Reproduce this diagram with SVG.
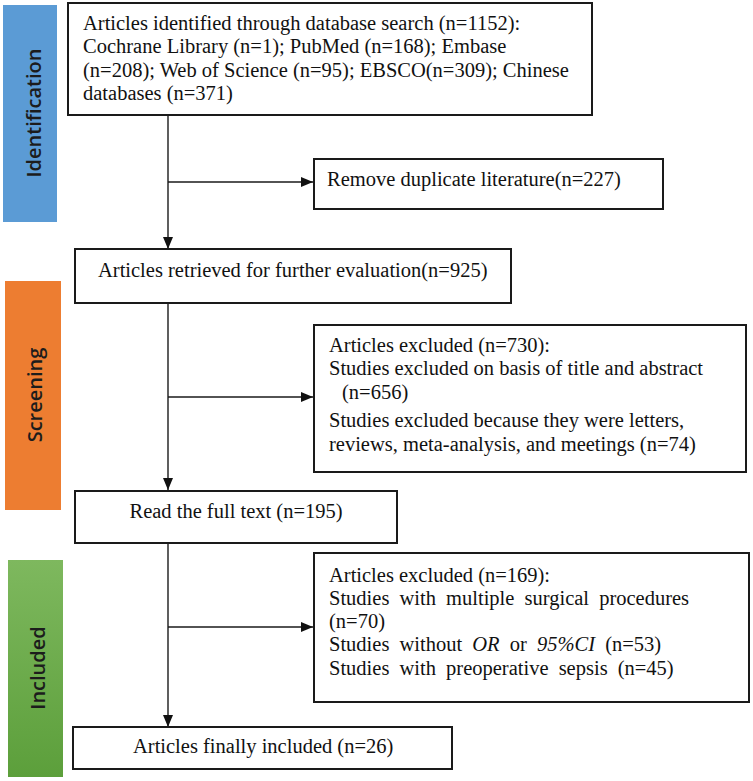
<svg xmlns="http://www.w3.org/2000/svg" width="753" height="781" viewBox="0 0 753 781">
<style>
.box{fill:#fff;stroke:#1a1a1a;stroke-width:2}
.t{font-family:"Liberation Serif","Times New Roman",serif;font-size:20.5px;fill:#111}
.js{word-spacing:5px}
.side{font-family:"Open Sans","Noto Sans",sans-serif;font-size:20px;font-weight:600;fill:#1c1c1c}
.ln{stroke:#1a1a1a;stroke-width:1.4;fill:none}
</style>
<defs>
<marker id="ah" markerWidth="12" markerHeight="10" refX="12" refY="5" orient="auto" markerUnits="userSpaceOnUse">
<path d="M0,0 L12,5 L0,10 Z" fill="#111"/>
</marker>
<linearGradient id="gg" x1="0" y1="0" x2="0" y2="1">
<stop offset="0" stop-color="#7eb85e"/>
<stop offset="1" stop-color="#5c9f3b"/>
</linearGradient>
</defs>

<g id="phase-identification">
<rect x="3" y="5" width="54" height="217" fill="#5b9bd5"/>
<text class="side" transform="translate(33,113) rotate(-90)" text-anchor="middle" dominant-baseline="central">Identification</text>
</g>
<g id="phase-screening">
<rect x="5" y="281" width="56" height="229" fill="#ed7d31"/>
<text class="side" transform="translate(34,395) rotate(-90)" text-anchor="middle" dominant-baseline="central">Screening</text>
</g>
<g id="phase-included">
<rect x="8" y="560" width="55" height="217" fill="url(#gg)"/>
<text class="side" transform="translate(37,668) rotate(-90)" text-anchor="middle" dominant-baseline="central">Included</text>
</g>

<g id="connectors">
<line class="ln" x1="168" y1="115" x2="168" y2="249" marker-end="url(#ah)"/>
<line class="ln" x1="168" y1="182" x2="313" y2="182" marker-end="url(#ah)"/>
<line class="ln" x1="168" y1="303" x2="168" y2="490" marker-end="url(#ah)"/>
<line class="ln" x1="168" y1="397" x2="313" y2="397" marker-end="url(#ah)"/>
<line class="ln" x1="168" y1="543" x2="168" y2="727" marker-end="url(#ah)"/>
<line class="ln" x1="168" y1="627" x2="313" y2="627" marker-end="url(#ah)"/>
</g>

<g id="node-identified">
<rect class="box" x="68" y="3" width="524" height="112"/>
<text class="t" x="83" y="30">Articles identified through database search (n=1152):</text>
<text class="t" x="83" y="53">Cochrane Library (n=1); PubMed (n=168); Embase</text>
<text class="t" x="83" y="77">(n=208); Web of Science (n=95); EBSCO(n=309); Chinese</text>
<text class="t" x="83" y="100">databases (n=371)</text>
</g>

<g id="node-duplicates">
<rect class="box" x="314" y="159" width="349" height="50"/>
<text class="t" x="327" y="186">Remove duplicate literature(n=227)</text>
</g>

<g id="node-retrieved">
<rect class="box" x="75" y="249" width="436" height="54"/>
<text class="t" x="98" y="277">Articles retrieved for further evaluation(n=925)</text>
</g>

<g id="node-excluded-730">
<rect class="box" x="314" y="325" width="432" height="147"/>
<text class="t" x="329" y="352">Articles excluded (n=730):</text>
<text class="t" x="329" y="375">Studies excluded on basis of title and abstract</text>
<text class="t" x="342" y="399">(n=656)</text>
<text class="t" x="329" y="427">Studies excluded because they were letters,</text>
<text class="t" x="329" y="451">reviews, meta-analysis, and meetings (n=74)</text>
</g>

<g id="node-fulltext">
<rect class="box" x="75" y="491" width="322" height="52"/>
<text class="t" x="236" y="518" text-anchor="middle">Read the full text (n=195)</text>
</g>

<g id="node-excluded-169">
<rect class="box" x="314" y="553" width="435" height="149"/>
<text class="t" x="329" y="582">Articles excluded (n=169):</text>
<text class="t js" x="329" y="605">Studies with multiple surgical procedures</text>
<text class="t" x="329" y="628">(n=70)</text>
<text class="t js" x="329" y="651">Studies without <tspan font-style="italic">OR</tspan> or <tspan font-style="italic">95%CI</tspan> (n=53)</text>
<text class="t js" x="329" y="675">Studies with preoperative sepsis (n=45)</text>
</g>

<g id="node-included">
<rect class="box" x="73" y="727" width="379" height="42"/>
<text class="t" x="133" y="753">Articles finally included (n=26)</text>
</g>
</svg>
